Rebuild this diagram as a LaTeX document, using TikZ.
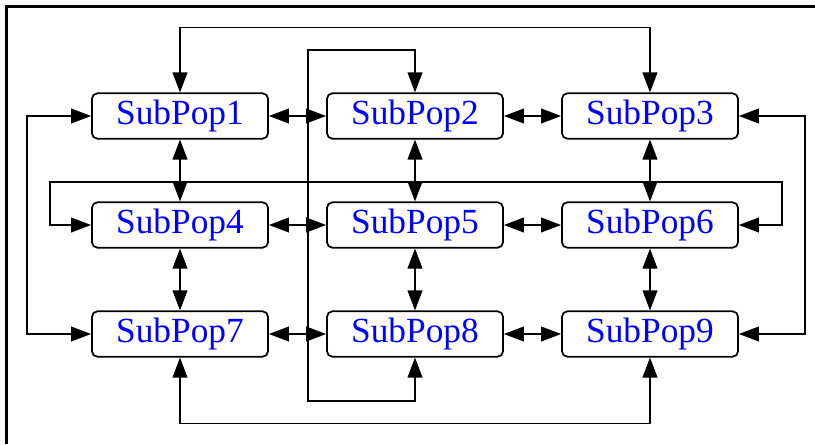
\documentclass[tikz,border=0pt]{standalone}
\usepackage{fontspec}
\setmainfont{Liberation Serif}
\usetikzlibrary{arrows.meta}
\begin{document}
\begin{tikzpicture}[x=0.75pt, y=-0.75pt, line width=1.3pt, >={Triangle[length=15pt,width=11pt]},
		subpop/.style={rectangle, draw, rounded corners=4pt, text centered, minimum height=34pt, minimum width=132pt, inner sep=0pt, text=blue, font=\fontsize{26.5}{30}\selectfont}]
		\useasboundingbox (0,0) rectangle (815,444);
		\draw[line width=1.8pt] (6.5,444) -- (6.5,6.5) -- (815,6.5);
		
		\node (sub1) [subpop] at (180,116) {SubPop1};
		\node (sub2) [subpop] at (415,116) {SubPop2};
		\node (sub3) [subpop] at (650,116) {SubPop3};
		\node (sub4) [subpop] at (180,225) {SubPop4};
		\node (sub5) [subpop] at (415,225) {SubPop5};
		\node (sub6) [subpop] at (650,225) {SubPop6};
		\node (sub7) [subpop] at (180,334) {SubPop7};
		\node (sub8) [subpop] at (415,334) {SubPop8};
		\node (sub9) [subpop] at (650,334) {SubPop9};
		
		\coordinate (loopL) at (50,182);
		\coordinate (loopR) at (782,182);
		\coordinate (backtop) at (308,50);
		\coordinate (backbot) at (308,401);
		
		\draw[<->] (sub1) -- (sub2);
		\draw[<->] (sub2) -- (sub3);
		\draw[<->] (sub4) -- (sub5);
		\draw[<->] (sub5) -- (sub6);
		\draw[<->] (sub7) -- (sub8);
		\draw[<->] (sub8) -- (sub9);
		\draw[<->] (sub1) -- (sub4);
		\draw[<->] (sub4) -- (sub7);
		\draw[<->] (sub2) -- (sub5);
		\draw[<->] (sub5) -- (sub8);
		\draw[<->] (sub3) -- (sub6);
		\draw[<->] (sub6) -- (sub9);
		
		\draw[<->] (sub1.north) -- ++(0,-65) -| (sub3.north);
		\draw[<->] (sub7.south) -- ++(0,66) -| (sub9.south);
		\draw[<->] (sub1.west) -- ++(-64,0) |- (sub7.west);
		\draw[<->] (sub3.east) -- ++(66,0) |- (sub9.east);
		\draw[<->] (sub4.west) -| (loopL) -- (loopR) |- (sub6.east);
		\draw[<->] (sub2.north) |- (backtop) -- (backbot) -| (sub8.south);
	\end{tikzpicture}
\end{document}
